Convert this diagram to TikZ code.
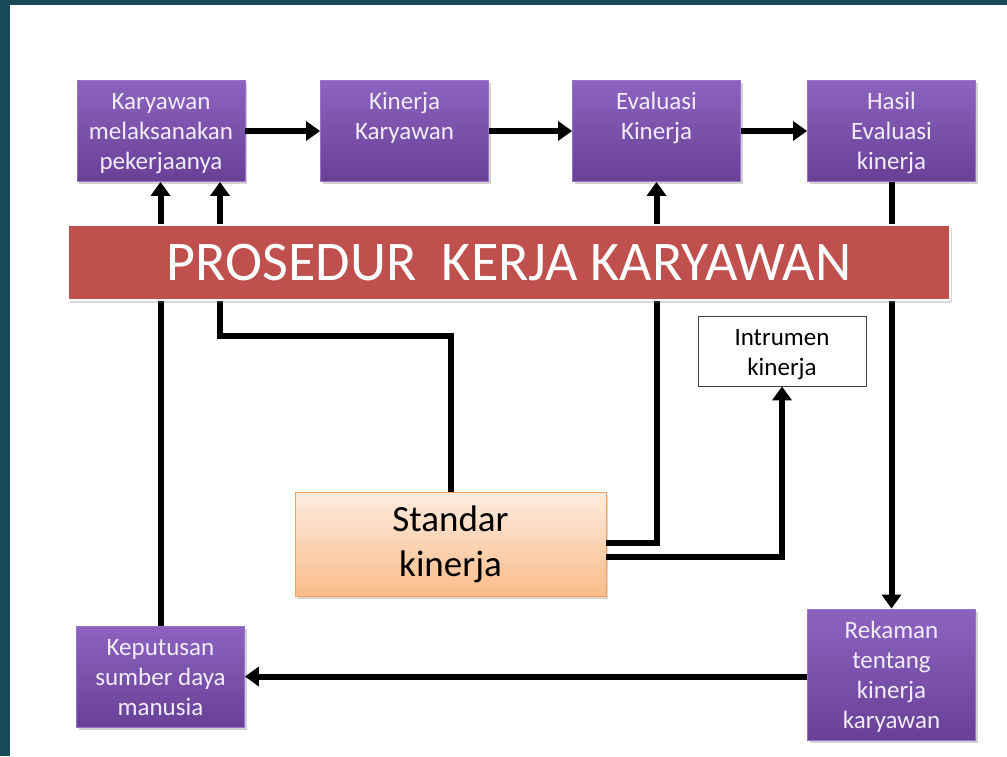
\documentclass[tikz,border=0pt]{standalone}
\usepackage{fontspec}
\setmainfont{Carlito}
\usetikzlibrary{arrows.meta,shadows,calc}
\definecolor{frame}{RGB}{24,73,88}
\definecolor{ptop}{RGB}{140,100,192}
\definecolor{pbot}{RGB}{104,64,150}
\definecolor{pborder}{RGB}{150,115,200}
\definecolor{ptext}{RGB}{242,236,248}
\definecolor{bannerred}{RGB}{192,80,77}
\definecolor{otop}{RGB}{253,236,222}
\definecolor{obot}{RGB}{250,188,138}
\definecolor{oborder}{RGB}{247,160,90}
\tikzset{
  pbox/.style={rectangle, minimum width=168pt, minimum height=101pt, inner sep=0pt,
    top color=ptop, bottom color=pbot, draw=pborder, line width=0.8pt,
    drop shadow={shadow xshift=2pt, shadow yshift=-2.5pt, opacity=0.35}},
  btext/.style={anchor=north, inner sep=0pt, align=center,
    font=\fontsize{25}{30}\selectfont, yshift=-8.5pt},
  ptxt/.style={btext, text=ptext},
  conn/.style={line width=6pt, draw=black},
  arr/.style={conn, -{Triangle[length=14pt,width=19pt]}},
}
\begin{document}
\begin{tikzpicture}[x=1pt,y=-1pt]
\useasboundingbox (0,0) rectangle (1007,756);
\fill[white] (0,0) rectangle (1007,756);
\fill[frame] (0,0) rectangle (10,756);
\fill[frame] (0,0) rectangle (1007,5);

% boxes
\node[pbox] (b1) at (161,131) {};
\node[pbox] (b2) at (404.5,131) {};
\node[pbox] (b3) at (656.5,131) {};
\node[pbox] (b4) at (891.5,131) {};
\node[pbox] (kep) at (160.5,676.5) {};
\node[pbox, minimum height=131pt] (rek) at (891.5,674.5) {};
\node[ptxt] (b1t) at (b1.north) {\strut Karyawan\\melaksanakan\\pekerjaanya};
\node[ptxt] (b2t) at (b2.north) {\strut Kinerja\\Karyawan};
\node[ptxt] (b3t) at (b3.north) {\strut Evaluasi\\Kinerja};
\node[ptxt] (b4t) at (b4.north) {\strut Hasil\\Evaluasi\\kinerja};
\node[ptxt] (kept) at (kep.north) {\strut Keputusan\\sumber daya\\manusia};
\node[ptxt] (rekt) at (rek.north) {\strut Rekaman\\tentang\\kinerja\\karyawan};

\node[rectangle, draw=black!75, line width=0.8pt, fill=white, minimum width=168pt, minimum height=70pt,
  inner sep=0pt] (intr) at (782,351) {};
\node[btext, text=black] (intrt) at (intr.north) {\strut Intrumen\\kinerja};

\node[rectangle, minimum width=311pt, minimum height=104pt, inner sep=0pt,
  top color=otop, bottom color=obot, draw=oborder, line width=0.8pt,
  align=center, font=\fontsize{37}{45}\selectfont,
  drop shadow={shadow xshift=2pt, shadow yshift=-2.5pt, opacity=0.3}] (std) at (450.5,544) {Standar\\kinerja};

% connectors
\draw[arr] (b1) -- (b2);
\draw[arr] (b2) -- (b3);
\draw[arr] (b3) -- (b4);
\draw[arr] (kep.north) -- (kep.north |- b1.south);
\coordinate (c1) at (220,336);
\draw[arr] (std.north) -- (std.north |- c1) -- (c1) -- (c1 |- b1.south);
\draw[arr] ([yshift=1pt]std.east) -| (b3.south);
\draw[arr] ([yshift=-13pt]std.east) -| (intr.south);
\draw[arr] (b4.south) -- (rek.north);
\draw[arr] (kep.east -| rek.west) -- (kep.east);

% banner on top
\node[rectangle, minimum width=882pt, minimum height=75pt, inner sep=0pt,
  fill=bannerred, draw=white, line width=2.5pt, text=white,
  font=\fontsize{56}{60}\selectfont,
  drop shadow={shadow xshift=1.5pt, shadow yshift=-2.5pt, opacity=0.3}] (ban) at (509,262.5) {PROSEDUR\ \ KERJA KARYAWAN};
\end{tikzpicture}
\end{document}
